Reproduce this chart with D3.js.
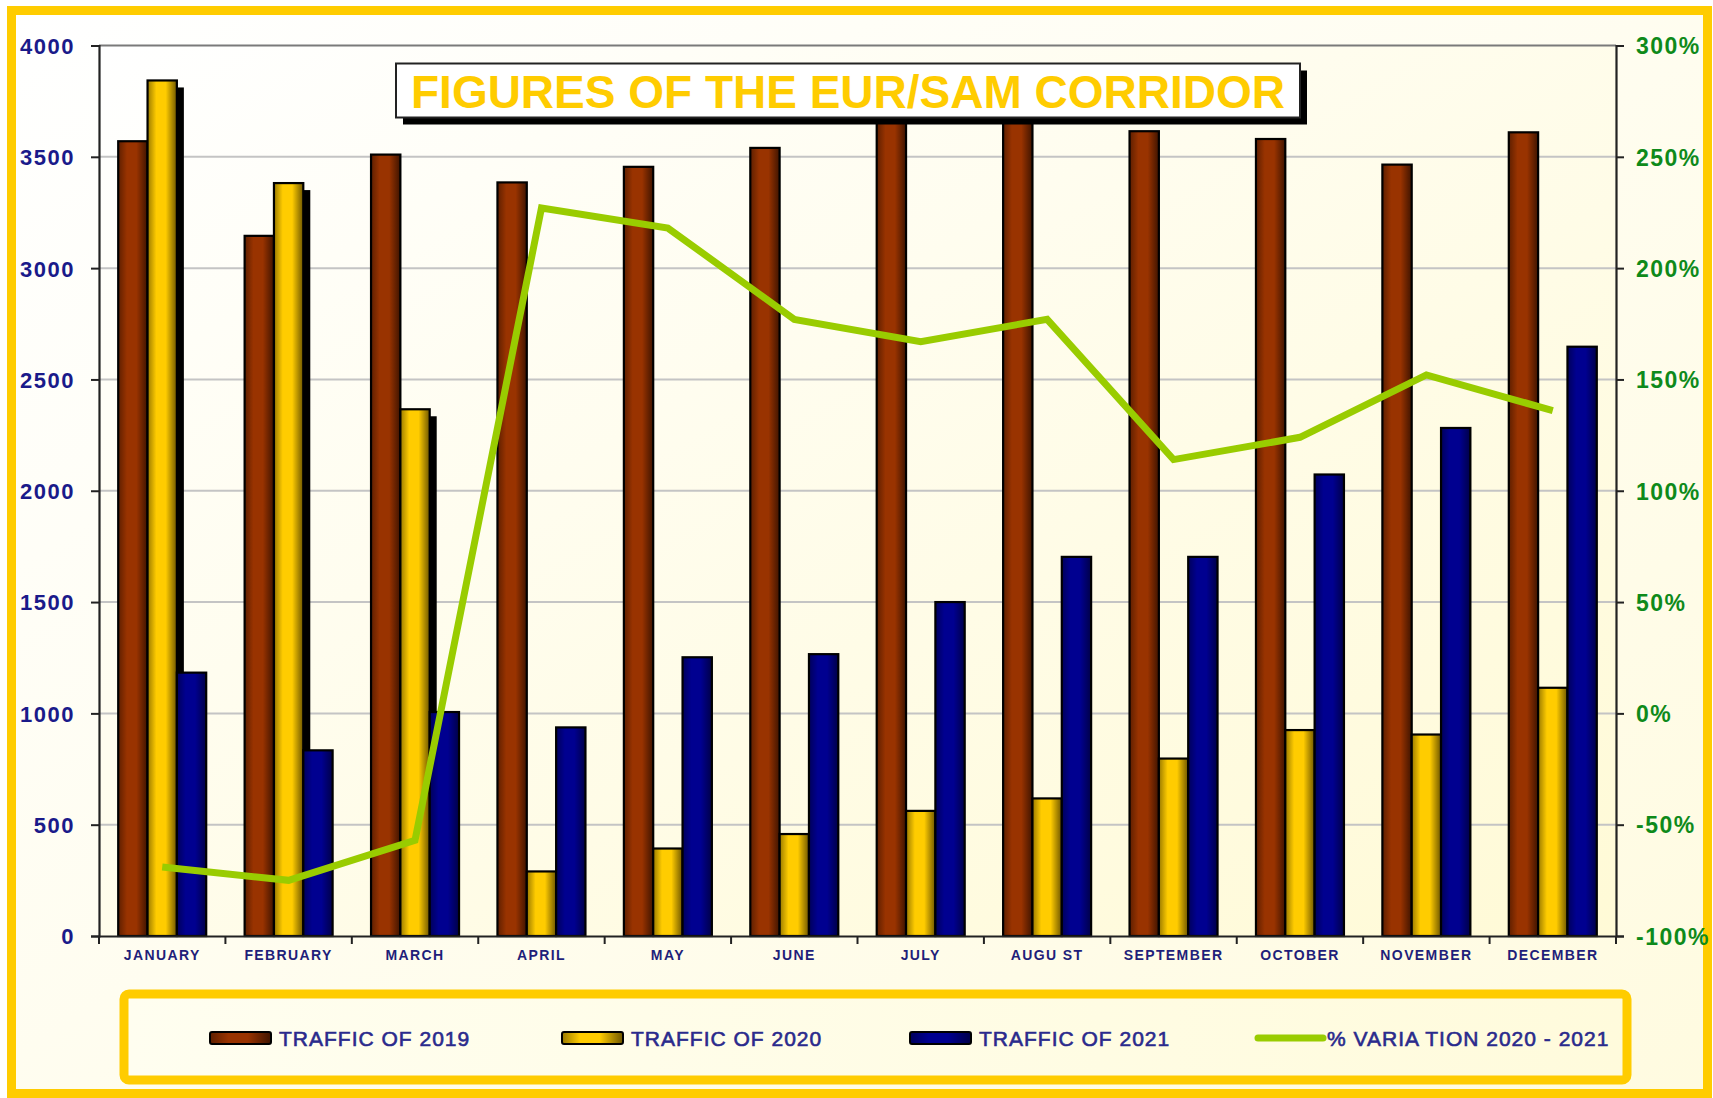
<!DOCTYPE html>
<html>
<head>
<meta charset="utf-8">
<script src="https://cdn.jsdelivr.net/npm/d3@7/dist/d3.min.js"></script>
<style>
html,body{margin:0;padding:0;background:#fff;}
svg{display:block;font-family:"Liberation Sans",Arial,sans-serif;}
</style>
</head>
<body>
<svg id="chart" width="1713" height="1098"></svg>
<script>
const months = ["JANUARY","FEBRUARY","MARCH","APRIL","MAY","JUNE","JULY","AUGU ST","SEPTEMBER","OCTOBER","NOVEMBER","DECEMBER"];
const traffic2019 = [3570,3145,3510,3385,3455,3540,3730,3740,3615,3580,3465,3610];
const traffic2020 = [3843,3382,2366,290,393,458,562,618,797,925,905,1115];
const traffic2021 = [1183,834,1006,937,1252,1266,1500,1703,1703,2073,2282,2647];
const variation = [-69,-75,-57,227,218,177,167,177,114,124,152,136];
const leftTicks = [0,500,1000,1500,2000,2500,3000,3500,4000];
const rightTicks = [-100,-50,0,50,100,150,200,250,300];
const seriesNames = ["TRAFFIC OF 2019","TRAFFIC OF 2020","TRAFFIC OF 2021"];
const lineName = "% VARIA TION 2020 - 2021";
const titleText = "FIGURES OF THE EUR/SAM CORRIDOR";

const svg = d3.select("#chart");
const defs = svg.append("defs");

function hGrad(id, edge, mid, edge2){
  const g = defs.append("linearGradient").attr("id", id).attr("x1","0").attr("x2","1").attr("y1","0").attr("y2","0");
  g.append("stop").attr("offset","0%").attr("stop-color", edge);
  g.append("stop").attr("offset","30%").attr("stop-color", mid);
  g.append("stop").attr("offset","62%").attr("stop-color", mid);
  g.append("stop").attr("offset","100%").attr("stop-color", edge2);
}
hGrad("gBrown","#5e1f00","#993300","#3f1400");
hGrad("gYellow","#9a7a00","#ffcc00","#6e5600");
hGrad("gBlue","#00005a","#000090","#000048");

const bgG = defs.append("linearGradient").attr("id","gBg").attr("x1","0").attr("y1","0").attr("x2","1").attr("y2","1");
bgG.append("stop").attr("offset","0%").attr("stop-color","#ffffff");
bgG.append("stop").attr("offset","100%").attr("stop-color","#fffbe0");
const plotG = defs.append("linearGradient").attr("id","gPlot").attr("x1","0").attr("y1","0").attr("x2","1").attr("y2","1");
plotG.append("stop").attr("offset","0%").attr("stop-color","#ffffff");
plotG.append("stop").attr("offset","100%").attr("stop-color","#fffad6");
const legG = defs.append("linearGradient").attr("id","gLeg").attr("x1","0").attr("y1","0").attr("x2","1").attr("y2","0");
legG.append("stop").attr("offset","0%").attr("stop-color","#fffef0");
legG.append("stop").attr("offset","100%").attr("stop-color","#fffbdc");

const fills = ["url(#gBrown)","url(#gYellow)","url(#gBlue)"];

// outer frame background
svg.append("rect").attr("x",11.5).attr("y",10.5).attr("width",1696).attr("height",1083)
  .attr("fill","url(#gBg)").attr("stroke","#ffcc00").attr("stroke-width",9);

const plot = {left:99, right:1616, top:45.5, bottom:936};

const x0 = d3.scaleBand().domain(months).range([plot.left, plot.right]).padding(0);
const groupW = 88;
const x1 = d3.scaleBand().domain([0,1,2])
  .range([(x0.bandwidth()-groupW)/2, (x0.bandwidth()+groupW)/2]).padding(0);
const yL = d3.scaleLinear().domain([0,4000]).range([plot.bottom, plot.top]);
const yR = d3.scaleLinear().domain([-100,300]).range([plot.bottom, plot.top]);

// plot area
svg.append("rect").attr("x",plot.left).attr("y",plot.top)
  .attr("width",plot.right-plot.left).attr("height",plot.bottom-plot.top)
  .attr("fill","url(#gPlot)");

// gridlines
svg.append("g").selectAll("line").data(leftTicks.filter(d=>d>0)).join("line")
  .attr("x1",plot.left).attr("x2",plot.right)
  .attr("y1",d=>yL(d)).attr("y2",d=>yL(d))
  .attr("stroke",d=>d===4000?"#7a7a7a":"#c4c4c4").attr("stroke-width",2);

// bars
const seriesData = [traffic2019, traffic2020, traffic2021];
const gBars = svg.append("g");
// shadows for 2020 bars
gBars.selectAll("rect.shadow").data(traffic2020).join("rect").attr("class","shadow")
  .attr("x",(d,i)=>x0(months[i])+x1(1)+7)
  .attr("y",d=>yL(d)+7)
  .attr("width",x1.bandwidth())
  .attr("height",d=>plot.bottom-yL(d)-7)
  .attr("fill","#000");
seriesData.forEach((arr,s)=>{
  gBars.selectAll("rect.s"+s).data(arr).join("rect").attr("class","s"+s)
    .attr("x",(d,i)=>x0(months[i])+x1(s))
    .attr("y",d=>yL(d))
    .attr("width",x1.bandwidth())
    .attr("height",d=>plot.bottom-yL(d))
    .attr("fill",fills[s]).attr("stroke","#000").attr("stroke-width",2.2);
});

// axes
const axL = d3.axisLeft(yL).tickValues(leftTicks).tickSize(8).tickFormat(d3.format("d"));
const gL = svg.append("g").attr("transform",`translate(${plot.left},0)`).call(axL);
gL.select(".domain").attr("stroke","#222").attr("stroke-width",2.2);
gL.selectAll(".tick line").attr("stroke","#222").attr("stroke-width",2);
gL.selectAll(".tick text").attr("x",-24).attr("dy","0.36em")
  .attr("font-size",22).attr("font-weight","bold").attr("letter-spacing",1.5)
  .attr("fill","#1a1a8a").attr("font-family","Liberation Sans, Arial, sans-serif");

const axR = d3.axisRight(yR).tickValues(rightTicks).tickSize(8).tickFormat(d=>d+"%");
const gR = svg.append("g").attr("transform",`translate(${plot.right},0)`).call(axR);
gR.select(".domain").attr("stroke","#222").attr("stroke-width",2.2);
gR.selectAll(".tick line").attr("stroke","#222").attr("stroke-width",2);
gR.selectAll(".tick text").attr("x",20).attr("dy","0.36em")
  .attr("font-size",23).attr("font-weight","bold").attr("letter-spacing",1.5)
  .attr("fill","#0e8a1a").attr("font-family","Liberation Sans, Arial, sans-serif");

const axB = d3.axisBottom(x0).tickSize(0).tickSizeOuter(0);
const gB = svg.append("g").attr("transform",`translate(0,${plot.bottom})`).call(axB);
gB.select(".domain").attr("stroke","#222").attr("stroke-width",2.2);
gB.selectAll(".tick text").attr("y",14).attr("dy","0.71em")
  .attr("font-size",14).attr("font-weight","bold").attr("letter-spacing",1.4)
  .attr("fill","#1f1f7a").attr("font-family","Liberation Sans, Arial, sans-serif");
// category separator ticks
svg.append("g").selectAll("line").data(months.concat(["_end"])).join("line")
  .attr("x1",(d,i)=>i<months.length?x0(d):plot.right)
  .attr("x2",(d,i)=>i<months.length?x0(d):plot.right)
  .attr("y1",plot.bottom).attr("y2",plot.bottom+8)
  .attr("stroke","#222").attr("stroke-width",2);

// variation line
const line = d3.line()
  .x((d,i)=>x0(months[i])+x0.bandwidth()/2)
  .y(d=>yR(d));
svg.append("path").datum(variation).attr("d",line)
  .attr("fill","none").attr("stroke","#99cc00").attr("stroke-width",7)
  .attr("stroke-linejoin","miter");

// title box
const tb = {x:396, y:63.5, w:904, h:54};
svg.append("rect").attr("x",tb.x+7).attr("y",tb.y+7).attr("width",tb.w).attr("height",tb.h).attr("fill","#000");
svg.append("rect").attr("x",tb.x).attr("y",tb.y).attr("width",tb.w).attr("height",tb.h)
  .attr("fill","#fff").attr("stroke","#222").attr("stroke-width",2);
svg.append("text").attr("x",tb.x+tb.w/2).attr("y",tb.y+44).attr("text-anchor","middle")
  .attr("font-size",46).attr("font-weight","bold").attr("fill","#ffcc00")
  .attr("textLength",874).attr("lengthAdjust","spacingAndGlyphs")
  .text(titleText);

// legend
const lg = {x:124, y:994, w:1503, h:86};
svg.append("rect").attr("x",lg.x).attr("y",lg.y).attr("width",lg.w).attr("height",lg.h)
  .attr("rx",5).attr("fill","url(#gLeg)").attr("stroke","#ffcc00").attr("stroke-width",9);
const legX = [210, 562, 910];
const legCY = 1038;
seriesNames.forEach((n,s)=>{
  svg.append("rect").attr("x",legX[s]).attr("y",legCY-6).attr("width",61).attr("height",12)
    .attr("rx",2).attr("fill",fills[s]).attr("stroke","#000").attr("stroke-width",2);
  svg.append("text").attr("x",legX[s]+69).attr("y",legCY).attr("dy","0.36em")
    .attr("font-size",21).attr("letter-spacing",1).attr("fill","#2a2a8c")
    .attr("stroke","#2a2a8c").attr("stroke-width",0.6)
    .text(n);
});
svg.append("line").attr("x1",1258).attr("x2",1323).attr("y1",legCY).attr("y2",legCY)
  .attr("stroke","#99cc00").attr("stroke-width",7).attr("stroke-linecap","round");
svg.append("text").attr("x",1327).attr("y",legCY).attr("dy","0.36em")
  .attr("font-size",21).attr("letter-spacing",1).attr("fill","#2a2a8c")
  .attr("stroke","#2a2a8c").attr("stroke-width",0.6).text(lineName);
</script>
</body>
</html>
